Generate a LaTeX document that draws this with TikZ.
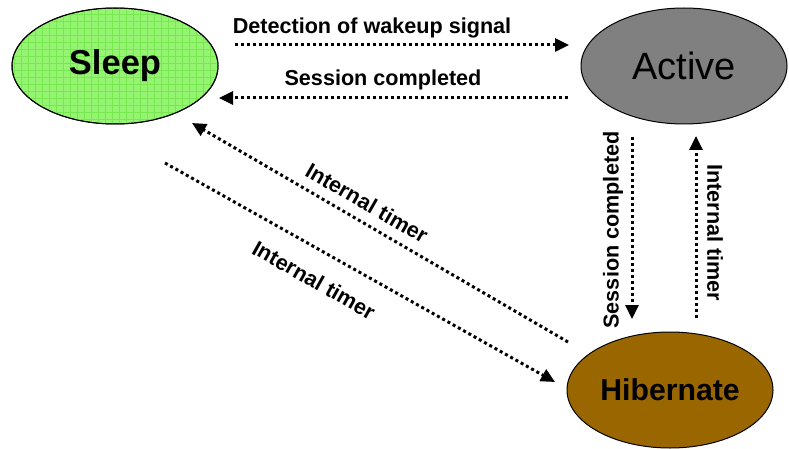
\documentclass[tikz,border=0pt]{standalone}
\usepackage{fontspec}
\setmainfont{Liberation Sans}
\usetikzlibrary{arrows.meta,shapes.geometric}
\definecolor{sleepgreen}{RGB}{150,244,115}
\definecolor{sleepgrid}{RGB}{120,232,80}
\definecolor{activegray}{RGB}{128,128,128}
\definecolor{hibbrown}{RGB}{153,102,0}
\tikzset{
  state/.style={ellipse, draw=black, line width=1pt, minimum width=206pt, minimum height=116pt, inner sep=0pt},
  flow/.style={line width=3pt, dash pattern=on 3pt off 3pt, -{Triangle[length=14pt,width=13pt]}},
  lbl/.style={font=\fontsize{21.6}{25}\selectfont\bfseries, inner sep=0pt}
}
\begin{document}
\begin{tikzpicture}[x=1pt,y=-1pt]
\useasboundingbox (0,0) rectangle (789,449);
% states
\node[state, fill=sleepgreen] (sleep) at (115,66) {};
\begin{scope}
  \clip (115,66) ellipse [x radius=103pt, y radius=58pt];
  \draw[sleepgrid, line width=0.6pt, step=7pt] (0,0) grid (240,140);
\end{scope}
\node[state, fill=none] (sleepb) at (115,66) {};
\node[font=\fontsize{34.5}{40}\selectfont\bfseries] (sleept) at (sleep) {Sleep};
\node[state, fill=activegray, font=\fontsize{38}{44}\selectfont] (active) at (684,66) {Active};
\node[state, fill=hibbrown, font=\fontsize{30.2}{35}\selectfont\bfseries] (hib) at (670,390) {Hibernate};
% connector end points
\coordinate (d1) at (235,45);  \coordinate (d2) at (569,45);
\coordinate (s1) at (568,98);  \coordinate (s2) at (219,98);
\coordinate (u1) at (568,342); \coordinate (u2) at (192,123);
\coordinate (l1) at (165,163); \coordinate (l2) at (555,382);
\coordinate (v1) at (632,137); \coordinate (v2) at (632,319);
\coordinate (w1) at (696,318); \coordinate (w2) at (696,136);
% transitions
\draw[flow] (d1) -- (d2);
\draw[flow] (s1) -- (s2);
\draw[flow] (u1) -- (u2);
\draw[flow] (l1) -- (l2);
\draw[flow] (v1) -- (v2);
\draw[flow] (w1) -- (w2);
% labels
\node[lbl] (ld) at (372,28) {Detection of wakeup signal};
\node[lbl] (ls) at (383,80) {Session completed};
\node[lbl, rotate=-30] (lu) at (367,203) {Internal timer};
\node[lbl, rotate=-29.5] (ll) at (314,280) {Internal timer};
\node[lbl, rotate=90] (lv) at (613,230) {Session completed};
\node[lbl, rotate=-90] (lw) at (715,233) {Internal timer};
\end{tikzpicture}
\end{document}
